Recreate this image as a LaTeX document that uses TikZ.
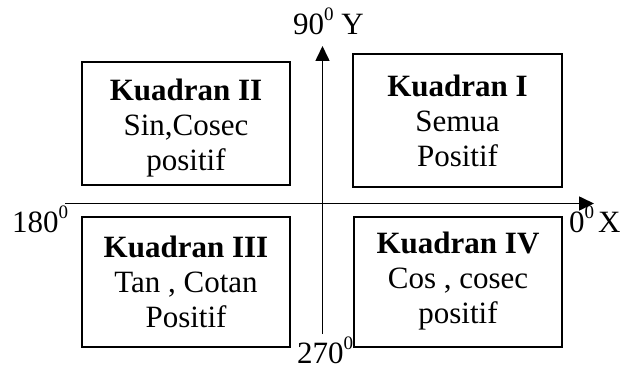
\documentclass[tikz,border=0pt]{standalone}
\usepackage{fontspec}
\setmainfont{Liberation Serif}
\usetikzlibrary{arrows.meta}
\newcommand{\degsup}{\raisebox{14pt}{\fontsize{19}{19}\selectfont 0}}
\tikzset{
  quad/.style={draw, line width=1.8pt, inner sep=0pt},
  qtext/.style={align=center, inner sep=0pt, font=\fontsize{31}{35}\selectfont},
  axis/.style={line width=1.6pt, -{Triangle[length=15pt,width=14pt]}},
  lbl/.style={inner sep=0pt, anchor=base west, font=\fontsize{31}{35}\selectfont}
}
\begin{document}
\begin{tikzpicture}[x=1pt,y=-1pt]
\useasboundingbox (0,0) rectangle (621,369);
\node[quad, minimum width=208pt, minimum height=123pt] (q2) at (186,123.5) {};
\node[qtext] (t2) at ([yshift=-5pt]q2.center) {\textbf{Kuadran II}\\Sin,Cosec\\positif};
\node[quad, minimum width=209pt, minimum height=133pt] (q1) at (457.5,120.5) {};
\node[qtext] (t1) at (q1.center) {\textbf{Kuadran I}\\Semua\\Positif};
\node[quad, minimum width=208pt, minimum height=130pt] (q3) at (186,282) {};
\node[qtext] (t3) at (q3.center) {\textbf{Kuadran III}\\Tan , Cotan\\Positif};
\node[quad, minimum width=208pt, minimum height=130pt] (q4) at (458,282) {};
\node[qtext] (t4) at ([yshift=1pt]q4.center) {\textbf{Kuadran IV}\\Cos , cosec\\positif};
\coordinate (xs) at (65,203.5);
\coordinate (xe) at (594,203.5);
\coordinate (ys) at (322.5,334);
\coordinate (ye) at (322.5,46);
\draw[axis] (xs) -- (xe);
\draw[axis] (ys) -- (ye);
\node[lbl] (l90) at (293,35) {90\degsup\ Y};
\node[lbl] (l180) at (12,232) {180\degsup};
\node[lbl] (l0) at (569,232) {0\degsup};
\node[lbl] (lx) at (598,232) {X};
\node[lbl] (l270) at (297,363.5) {270\degsup};
\end{tikzpicture}
\end{document}
